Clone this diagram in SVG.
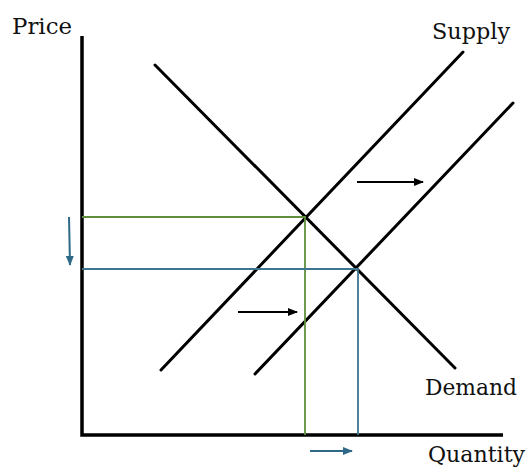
<svg xmlns="http://www.w3.org/2000/svg" width="526" height="470" viewBox="0 0 526 470">
<style>
.lbl{font-family:"DejaVu Serif","Liberation Serif",serif;font-size:22px;fill:#111}
.crv{stroke:#000;stroke-width:3;fill:none;stroke-linecap:round}
.ax{stroke:#000;stroke-width:3.5;fill:none}
.g{stroke:#5f8f3c;stroke-width:1.8;fill:none}
.b{stroke:#3d7591;stroke-width:1.8;fill:none}
.ak{stroke:#000;stroke-width:1.8;fill:none}
.ab{stroke:#2e6a88;stroke-width:2;fill:none}
</style>
<defs>
<marker id="hk" markerWidth="10" markerHeight="8" refX="9" refY="4" orient="auto" markerUnits="userSpaceOnUse"><path d="M0,0 L10,4 L0,8 Z" fill="#000"/></marker>
<marker id="hb" markerWidth="10" markerHeight="8" refX="9" refY="4" orient="auto" markerUnits="userSpaceOnUse"><path d="M0,0 L10,4 L0,8 Z" fill="#2e6a88"/></marker>
</defs>
<g id="axes">
<path class="ax" d="M82,36 V435 H503"/>
<text class="lbl" x="12" y="34" textLength="60" lengthAdjust="spacingAndGlyphs">Price</text>
<text class="lbl" x="428" y="462" textLength="97" lengthAdjust="spacingAndGlyphs">Quantity</text>
</g>
<g id="demand">
<line class="crv" x1="155" y1="65" x2="455" y2="368"/>
<text class="lbl" x="425" y="395" textLength="92" lengthAdjust="spacingAndGlyphs">Demand</text>
</g>
<g id="supply1">
<line class="crv" x1="161" y1="370" x2="463" y2="52"/>
<text class="lbl" x="432" y="39" textLength="78" lengthAdjust="spacingAndGlyphs">Supply</text>
</g>
<g id="supply2">
<line class="crv" x1="255" y1="374" x2="513" y2="103"/>
</g>
<g id="guides">
<path class="g" d="M82,217 H305 V435"/>
<path class="b" d="M82,269 H358 V435"/>
</g>
<g id="connectors">
<line class="ak" x1="357" y1="182" x2="423" y2="182" marker-end="url(#hk)"/>
<line class="ak" x1="238" y1="312" x2="297" y2="312" marker-end="url(#hk)"/>
<line class="ab" x1="69" y1="217" x2="70" y2="265" marker-end="url(#hb)"/>
<line class="ab" x1="310" y1="451" x2="352" y2="451" marker-end="url(#hb)"/>
</g>
</svg>
